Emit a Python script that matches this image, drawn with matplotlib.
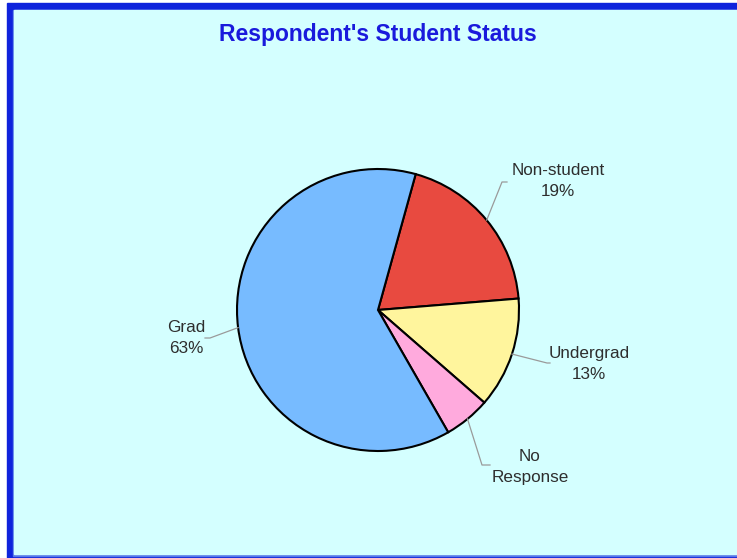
import numpy as np
import matplotlib.pyplot as plt
from matplotlib.patches import Rectangle

# --- data ---
labels = ["Non-student", "Undergrad", "No\nResponse", "Grad"]
pct_labels = ["19%", "13%", "", "63%"]
shares = [19.4, 12.7, 5.3, 62.6]
colors = ["#E84A40", "#FFF59D", "#FFAADD", "#77BBFF"]

W, H = 737, 558
plt.rcParams['font.family'] = ['Liberation Sans', 'DejaVu Sans']

fig = plt.figure(figsize=(W / 100, H / 100), dpi=100, facecolor="white")
ax = fig.add_axes([0, 0, 1, 1])

# frame: blue border on left/top, thin line at the bottom, cyan panel
ax.add_patch(Rectangle((7, 0), W - 7, H - 3, color="#0F23DC", zorder=0))
ax.add_patch(Rectangle((13, 2), W - 13, H - 12, color="#5878E8", zorder=0))
ax.add_patch(Rectangle((14, 4), W - 14, H - 14, color="#D4FFFF", zorder=0))

ax.text(378, H - 34, "Respondent's Student Status", ha="center", va="center",
        fontsize=16.5, fontweight="bold", color="#1A1ADC")

cx, cy, r = 378, H - 310, 141
wedges, _ = ax.pie(shares, colors=colors, startangle=74.5, counterclock=False,
                   center=(cx, cy), radius=r, frame=True,
                   wedgeprops=dict(edgecolor="black", linewidth=1.5))
ax.set_xlim(0, W)
ax.set_ylim(0, H)
ax.set_aspect('equal')
ax.axis('off')

# leader elbows and text positions (pixels from top-left)
elbows = [[(502, 182), (507, 182)],
          [(547, 363), (550, 363)],
          [(482, 465), (490, 465)],
          [(210, 338), (205, 338)]]
text_pos = [(558, 181), (589, 364), (530, 467), (186, 338)]

for w, lab, pct, elb, tp in zip(wedges, labels, pct_labels, elbows, text_pos):
    mid = np.radians((w.theta1 + w.theta2) / 2)
    x0, y0 = cx + r * np.cos(mid), cy + r * np.sin(mid)
    xs = [x0] + [p[0] for p in elb]
    ys = [y0] + [H - p[1] for p in elb]
    ax.plot(xs, ys, color="#9A9A9A", lw=0.9, zorder=3)
    txt = lab if not pct else f"{lab}\n{pct}"
    ax.text(tp[0], H - tp[1], txt, ha="center", va="center", fontsize=12.3,
            color="#2E2E2E", linespacing=1.5)

fig.savefig("out.png", dpi=100, facecolor="white")
